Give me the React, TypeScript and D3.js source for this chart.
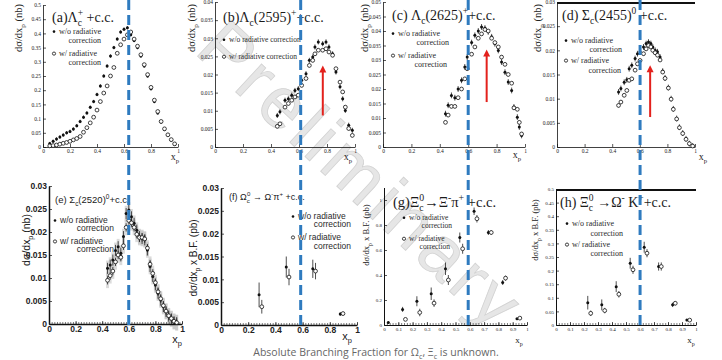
import { useEffect, useRef } from 'react';
import * as d3 from 'd3';

// ---- values ----

// (a) Lambda_c+
const aX = [0.05, 0.075, 0.1, 0.125, 0.15, 0.175, 0.2, 0.225, 0.25, 0.275, 0.3, 0.325, 0.35, 0.375, 0.4, 0.425, 0.45, 0.475, 0.5, 0.525, 0.55, 0.575, 0.6, 0.625, 0.65, 0.675, 0.7, 0.725, 0.75, 0.775, 0.8, 0.825, 0.85, 0.875, 0.9, 0.925, 0.95, 0.975];
const aNoRad = [0.012, 0.02, 0.028, 0.035, 0.042, 0.05, 0.055, 0.063, 0.075, 0.09, 0.105, 0.12, 0.14, 0.16, 0.185, 0.215, 0.25, 0.285, 0.32, 0.35, 0.38, 0.405, 0.415, 0.42, 0.395, 0.375, 0.35, 0.32, 0.285, 0.25, 0.205, 0.16, 0.12, 0.088, 0.062, 0.042, 0.025, 0.01];
const aRad = [0.004, 0.005, 0.007, 0.01, 0.013, 0.016, 0.02, 0.025, 0.03, 0.037, 0.052, 0.068, 0.085, 0.105, 0.13, 0.16, 0.19, 0.215, 0.25, 0.28, 0.33, 0.36, 0.38, 0.395, 0.405, 0.38, 0.355, 0.325, 0.29, 0.255, 0.21, 0.165, 0.125, 0.09, 0.064, 0.043, 0.026, 0.011];

// (b) Lambda_c(2595)+
const bX = [0.445, 0.464, 0.5, 0.524, 0.548, 0.571, 0.595, 0.619, 0.65, 0.674, 0.698, 0.714, 0.738, 0.769, 0.793, 0.814, 0.84, 0.864, 0.893, 0.912, 0.931, 0.955, 0.981];
const bNoRad = [0.0087, 0.0097, 0.0129, 0.0133, 0.0143, 0.0156, 0.0161, 0.0184, 0.0202, 0.0239, 0.0248, 0.0276, 0.029, 0.0285, 0.029, 0.0276, 0.0257, 0.0207, 0.0166, 0.0133, 0.0101, 0.006, 0.0046];
const bRad = [0.0057, 0.0064, 0.011, 0.012, 0.0129, 0.0138, 0.0143, 0.017, 0.0189, 0.0225, 0.0239, 0.0257, 0.0267, 0.0267, 0.0271, 0.0262, 0.0253, 0.0216, 0.0179, 0.0152, 0.011, 0.0051, 0.0032];

// (c) Lambda_c(2625)+
const cX = [0.44, 0.459, 0.482, 0.506, 0.529, 0.553, 0.576, 0.593, 0.624, 0.647, 0.671, 0.694, 0.718, 0.741, 0.765, 0.788, 0.812, 0.835, 0.859, 0.882, 0.906, 0.922, 0.946, 0.96, 0.976];
const cNoRad = [0.0115, 0.0144, 0.0178, 0.017, 0.02, 0.023, 0.0276, 0.031, 0.036, 0.0385, 0.04, 0.0414, 0.041, 0.0397, 0.038, 0.0356, 0.0333, 0.0293, 0.0258, 0.0224, 0.0195, 0.0138, 0.0103, 0.0069, 0.004];
const cRad = [0.0085, 0.011, 0.014, 0.014, 0.017, 0.02, 0.0235, 0.027, 0.032, 0.0345, 0.0375, 0.039, 0.0405, 0.04, 0.0375, 0.036, 0.0345, 0.031, 0.0285, 0.025, 0.022, 0.0135, 0.013, 0.0085, 0.0045];

// (d) Sigma_c(2455)0
const dX = [0.446, 0.463, 0.487, 0.506, 0.523, 0.542, 0.566, 0.583, 0.602, 0.627, 0.646, 0.663, 0.68, 0.694, 0.711, 0.728, 0.747, 0.766, 0.783, 0.807, 0.827, 0.843, 0.867, 0.887, 0.911, 0.935, 0.959, 0.983];
const dNoRad = [0.0114, 0.0121, 0.0134, 0.0139, 0.0162, 0.0169, 0.0183, 0.0193, 0.0197, 0.0207, 0.0214, 0.0217, 0.0214, 0.0207, 0.02, 0.0197, 0.0186, 0.0157, 0.0143, 0.0123, 0.01, 0.0079, 0.0059, 0.0041, 0.0029, 0.0017, 0.0007, 0.0002];
const dRad = [0.0086, 0.0093, 0.0107, 0.0117, 0.0138, 0.0141, 0.0159, 0.0172, 0.0179, 0.0193, 0.0203, 0.021, 0.0207, 0.02, 0.0195, 0.019, 0.018, 0.0155, 0.0142, 0.0122, 0.0099, 0.0078, 0.0058, 0.004, 0.0028, 0.0016, 0.0007, 0.0002];

// (e) Sigma_c(2520)0
const eX = [0.44, 0.46, 0.48, 0.5, 0.52, 0.54, 0.56, 0.58, 0.6, 0.62, 0.64, 0.66, 0.68, 0.7, 0.72, 0.74, 0.76, 0.78, 0.8, 0.82, 0.84, 0.86, 0.88, 0.9, 0.92, 0.94, 0.96];
const eNoRad = [0.0121, 0.0128, 0.0139, 0.016, 0.0168, 0.0154, 0.019, 0.024, 0.0248, 0.0233, 0.0219, 0.0204, 0.019, 0.0186, 0.0183, 0.0161, 0.0125, 0.0103, 0.0085, 0.0067, 0.0052, 0.0038, 0.0027, 0.0017, 0.0011, 0.0005, 0.0003];
const eRad = [0.0095, 0.0105, 0.0115, 0.0135, 0.015, 0.0145, 0.017, 0.021, 0.0225, 0.022, 0.021, 0.0195, 0.0188, 0.0188, 0.0185, 0.0165, 0.013, 0.011, 0.009, 0.007, 0.0055, 0.004, 0.0028, 0.0018, 0.0012, 0.0006, 0.0003];

// (f) Omega_c0 -> Omega- pi+
const fX = [0.28, 0.48, 0.675, 0.877];
const fNoRad = [0.0066, 0.0127, 0.0123, 0.0024];
const fNoRadErr = [0.0027, 0.0023, 0.002, 0.0004];
const fXRad = [0.3, 0.5, 0.695, 0.897];
const fRad = [0.004, 0.0105, 0.0118, 0.0025];
const fRadErr = [0.0015, 0.0018, 0.0018, 0.0004];

// (g) Xi_c0 -> Xi- pi+
const gX = [0.03, 0.13, 0.23, 0.33, 0.43, 0.53, 0.63, 0.73, 0.83, 0.93];
const gNoRad = [0.02, 0.125, 0.19, 0.25, 0.45, 0.7, 0.91, 0.74, 0.34, 0.05];
const gNoRadErr = [0.01, 0.02, 0.04, 0.05, 0.05, 0.04, 0.03, 0.02, 0.02, 0.005];
const gXRad = [0.15, 0.25, 0.35, 0.45, 0.55, 0.65, 0.75, 0.85, 0.95];
const gRad = [0.045, 0.1, 0.175, 0.36, 0.61, 0.85, 0.74, 0.375, 0.055];
const gRadErr = [0.01, 0.03, 0.03, 0.04, 0.04, 0.03, 0.02, 0.02, 0.005];

// (h) Xi_c0 -> Omega- K+
const hX = [0.227, 0.327, 0.43, 0.53, 0.63, 0.733, 0.833, 0.935];
const hNoRad = [0.082, 0.074, 0.141, 0.227, 0.286, 0.215, 0.074, 0.018];
const hNoRadErr = [0.025, 0.02, 0.02, 0.02, 0.02, 0.015, 0.008, 0.004];
const hXRad = [0.248, 0.348, 0.449, 0.55, 0.65, 0.752, 0.852, 0.955];
const hRad = [0.043, 0.053, 0.113, 0.203, 0.264, 0.215, 0.08, 0.018];
const hRadErr = [0.01, 0.01, 0.012, 0.015, 0.015, 0.015, 0.008, 0.004];

// tick labels
const xTicks5 = [0, 0.2, 0.4, 0.6, 0.8, 1];
const xTicks10 = [0, 0.1, 0.2, 0.3, 0.4, 0.5, 0.6, 0.7, 0.8, 0.9, 1];
const yTicks05 = [0, 0.05, 0.1, 0.15, 0.2, 0.25, 0.3, 0.35, 0.4, 0.45, 0.5];
const yTicks004 = [0, 0.005, 0.01, 0.015, 0.02, 0.025, 0.03, 0.035, 0.04];
const yTicks005 = [0, 0.005, 0.01, 0.015, 0.02, 0.025, 0.03, 0.035, 0.04, 0.045, 0.05];
const yTicks003 = [0, 0.005, 0.01, 0.015, 0.02, 0.025, 0.03];
const yTicks1 = [0, 0.2, 0.4, 0.6, 0.8, 1];

// x_p of the blue dashed line in each column (a..d)
const cutX = [0.635, 0.612, 0.6, 0.602];

// red arrows: [x, from, to]
const arrowB = [0.77, 0.0087, 0.0225];
const arrowC = [0.73, 0.0155, 0.0336];
const arrowD = [0.675, 0.0062, 0.0169];

type Seg = [string, string];
interface Leg { text: string; x: number; y: number; marker?: 'filled' | 'open'; anchor?: string }
interface Ser { x: number[]; y: number[]; err: number[] | number; kind: 'filled' | 'open' }

const SERIF = 'Liberation Serif';
const SANS = 'Liberation Sans';

const legend4 = (x: number, y1: number, y2: number, y3: number, y4: number, r1: number, r2: number): Leg[] => [
  { marker: 'filled', text: 'w/o radiative', x, y: y1 },
  { text: 'correction', x: r1, y: y2, anchor: 'end' },
  { marker: 'open', text: 'w/ radiative', x, y: y3 },
  { text: 'correction', x: r2, y: y4, anchor: 'end' },
];

const labNb: Seg[] = [['dσ/dx', ''], ['p', 'sub'], [' (nb)', '']];
const labPb: Seg[] = [['dσ/dx', ''], ['p', 'sub'], [' x B.F. (pb)', '']];

const panels = [
  {
    box: { l: 43, t: 5, r: 178, b: 147 }, yMax: 0.5, xTicks: xTicks5, yTicks: yTicks05,
    tick: [SERIF, 5.5, 'normal'], axisW: 0.8,
    title: [['(a)Λ', ''], ['c', 'sub'], ['+', 'stk'], [' +c.c.', '']] as Seg[], titlePos: [52, 22], titleFont: [SERIF, 14],
    legend: legend4(54, 34, 43, 56, 65, 101, 101), legFont: [SERIF, 8],
    yLabel: labNb, yLabelPos: [22, 4], yAnchor: 'end', labFont: [SERIF, 10.5],
    xLabelPos: [175, 160], xLabFont: [SERIF, 10],
    series: [
      { x: aX, y: aNoRad, err: 0.006, kind: 'filled' },
      { x: aX, y: aRad, err: 0.003, kind: 'open' },
    ] as Ser[],
  },
  {
    box: { l: 215, t: 2, r: 355, b: 147 }, yMax: 0.04, xTicks: xTicks5, yTicks: yTicks004,
    tick: [SERIF, 5.5, 'normal'], axisW: 0.8,
    title: [['(b)Λ', ''], ['c', 'sub'], ['(2595)', ''], ['+', 'sup'], ['+c.c.', '']] as Seg[], titlePos: [223, 22], titleFont: [SERIF, 14],
    legend: [
      { marker: 'filled', text: 'w/o radiative correction', x: 224, y: 42 },
      { marker: 'open', text: 'w/ radiative correction', x: 224, y: 59 },
    ] as Leg[], legFont: [SERIF, 7.5],
    yLabel: labNb, yLabelPos: [195, 4], yAnchor: 'end', labFont: [SERIF, 10.5],
    xLabelPos: [348, 160], xLabFont: [SERIF, 10],
    series: [
      { x: bX, y: bNoRad, err: 0.0007, kind: 'filled' },
      { x: bX, y: bRad, err: 0.0005, kind: 'open' },
    ] as Ser[],
    arrow: arrowB,
  },
  {
    box: { l: 383, t: 2, r: 525, b: 147 }, yMax: 0.05, xTicks: xTicks5, yTicks: yTicks005,
    tick: [SERIF, 5.5, 'normal'], axisW: 0.8,
    title: [['(c) Λ', ''], ['c', 'sub'], ['(2625)', ''], ['+', 'sup'], ['+c.c.', '']] as Seg[], titlePos: [392, 20], titleFont: [SERIF, 14],
    legend: legend4(393, 36, 45, 58, 67, 449, 447), legFont: [SERIF, 8],
    yLabel: labNb, yLabelPos: [368, 4], yAnchor: 'end', labFont: [SERIF, 10.5],
    xLabelPos: [517, 158], xLabFont: [SERIF, 10],
    series: [
      { x: cX, y: cNoRad, err: 0.001, kind: 'filled' },
      { x: cX, y: cRad, err: 0.0006, kind: 'open' },
    ] as Ser[],
    arrow: arrowC,
  },
  {
    box: { l: 557, t: 2, r: 695, b: 147 }, yMax: 0.03, xTicks: xTicks5, yTicks: yTicks003,
    tick: [SERIF, 5.5, 'normal'], axisW: 0.8, topFrame: true,
    title: [['(d) Σ', ''], ['c', 'sub'], ['(2455)', ''], ['0', 'sup'], [' +c.c.', '']] as Seg[], titlePos: [562, 20], titleFont: [SERIF, 14],
    legend: legend4(566, 43, 52, 63, 73, 622, 621), legFont: [SERIF, 8],
    yLabel: labNb, yLabelPos: [541, 4], yAnchor: 'end', labFont: [SERIF, 10.5],
    xLabelPos: [703, 160], xLabFont: [SERIF, 10],
    series: [
      { x: dX, y: dNoRad, err: 0.0006, kind: 'filled' },
      { x: dX, y: dRad, err: 0.0004, kind: 'open' },
    ] as Ser[],
    arrow: arrowD,
  },
  {
    box: { l: 49, t: 186, r: 182, b: 324 }, yMax: 0.03, xTicks: xTicks5, yTicks: yTicks003,
    tick: [SANS, 8.5, 'bold'], axisW: 1.5, bands: true, minor: true,
    title: [['(e)  Σ', ''], ['c', 'sub'], ['(2520)', ''], ['0', 'sup'], ['+c.c.', '']] as Seg[], titlePos: [55, 203], titleFont: [SANS, 9.5],
    legend: legend4(55, 223, 231, 244, 252, 114, 114), legFont: [SANS, 8.5],
    yLabel: labNb, yLabelPos: [30, 240], yAnchor: 'middle', labFont: [SANS, 10.5],
    xLabelPos: [177, 343], xLabFont: [SANS, 11],
    series: [
      { x: eX, y: eNoRad, err: 0.0012, kind: 'filled' },
      { x: eX, y: eRad, err: 0.0009, kind: 'open' },
    ] as Ser[],
  },
  {
    box: { l: 221, t: 188, r: 357, b: 325 }, yMax: 0.03, xTicks: xTicks5, yTicks: yTicks003,
    tick: [SANS, 8.5, 'bold'], axisW: 1.5, minor: true,
    title: [['(f)    Ω', ''], ['c', 'sub'], ['0', 'stk'], [' → Ω', ''], ['-', 'sup'], ['π', ''], ['+', 'sup'], [' +c.c.', '']] as Seg[], titlePos: [229, 200], titleFont: [SANS, 9],
    legend: legend4(293, 219, 227, 240, 249, 351, 351), legFont: [SANS, 8.5],
    yLabel: labPb, yLabelPos: [197, 258], yAnchor: 'middle', labFont: [SANS, 10],
    xLabelPos: [347, 340], xLabFont: [SANS, 11],
    series: [
      { x: fX, y: fNoRad, err: fNoRadErr, kind: 'filled' },
      { x: fXRad, y: fRad, err: fRadErr, kind: 'open' },
    ] as Ser[],
  },
  {
    box: { l: 384, t: 187.5, r: 527, b: 325 }, yMax: 1.1, xTicks: xTicks10, yTicks: yTicks1,
    tick: [SERIF, 5, 'normal'], axisW: 1, minor: true,
    title: [['(g)Ξ', ''], ['c', 'sub'], ['0', 'stk'], ['→Ξ', ''], ['-', 'sup'], ['π', ''], ['+', 'sup'], [' +c.c.', '']] as Seg[], titlePos: [393, 207], titleFont: [SERIF, 14.5],
    legend: legend4(404, 220, 228, 241, 249, 452, 450), legFont: [SERIF, 7.5],
    yLabel: labPb, yLabelPos: [369, 235], yAnchor: 'middle', labFont: [SERIF, 8.5],
    xLabelPos: [519, 343], xLabFont: [SERIF, 9],
    series: [
      { x: gX, y: gNoRad, err: gNoRadErr, kind: 'filled' },
      { x: gXRad, y: gRad, err: gRadErr, kind: 'open' },
    ] as Ser[],
  },
  {
    box: { l: 556, t: 189, r: 696, b: 325 }, yMax: 0.5, xTicks: xTicks10, yTicks: yTicks05,
    tick: [SERIF, 5, 'normal'], axisW: 1, topFrame: true, minor: true,
    title: [['(h) Ξ', ''], ['c', 'sub'], ['0', 'stk'], [' →Ω', ''], ['-', 'sup'], [' K', ''], ['+', 'sup'], ['+c.c.', '']] as Seg[], titlePos: [560, 207], titleFont: [SERIF, 14],
    legend: legend4(567, 226, 236, 247, 256, 623, 623), legFont: [SERIF, 8],
    yLabel: labPb, yLabelPos: [538, 230], yAnchor: 'middle', labFont: [SERIF, 8.5],
    xLabelPos: [691, 343], xLabFont: [SERIF, 9],
    series: [
      { x: hX, y: hNoRad, err: hNoRadErr, kind: 'filled' },
      { x: hXRad, y: hRad, err: hRadErr, kind: 'open' },
    ] as Ser[],
  },
];

// write text segments with sub/superscripts as tspans
function addSegs(text: any, segs: Seg[], fs: number) {
  let cur = 0;
  segs.forEach(([s, k]) => {
    const target = k === 'sub' ? fs * 0.3 : k === 'sup' || k === 'stk' ? -fs * 0.42 : 0;
    const t = text.append('tspan').attr('dy', target - cur).attr('font-size', k ? fs * 0.68 : fs).text(s);
    if (k === 'stk') t.attr('dx', -fs * 0.3);
    cur = target;
  });
}

function drawPanel(svg: any, p: any) {
  const { l, t, r, b } = p.box;
  const x = d3.scaleLinear().domain([0, 1]).range([l, r]);
  const y = d3.scaleLinear().domain([0, p.yMax]).range([b, t]);
  const g = svg.append('g');

  // systematic boxes (e)
  if (p.bands) {
    p.series.forEach((s: Ser) => {
      g.selectAll(null).data(s.y).enter().append('rect')
        .attr('x', (_: number, i: number) => x(s.x[i] - 0.011))
        .attr('width', x(0.022) - x(0))
        .attr('y', (v: number) => y(v + 0.0017))
        .attr('height', y(0) - y(0.0034))
        .attr('fill', '#bdbdbd').attr('opacity', 0.55);
    });
  }

  const ya = g.append('g').attr('transform', `translate(${l},0)`)
    .call(d3.axisLeft(y).tickValues(p.yTicks).tickFormat((d: any) => String(d)).tickSizeInner(-3).tickSizeOuter(0).tickPadding(2));
  const xa = g.append('g').attr('transform', `translate(0,${b})`)
    .call(d3.axisBottom(x).tickValues(p.xTicks).tickFormat((d: any) => String(d)).tickSizeInner(-3).tickSizeOuter(0).tickPadding(2));
  if (p.minor) {
    g.append('g').attr('transform', `translate(0,${b})`)
      .call(d3.axisBottom(x).tickValues(d3.range(0, 1.0001, 0.02)).tickFormat(() => '').tickSizeInner(-2).tickSizeOuter(0))
      .call((a: any) => a.select('.domain').remove())
      .selectAll('line').attr('stroke', '#222').attr('stroke-width', 0.6);
  }
  [ya, xa].forEach(a => {
    a.attr('font-family', p.tick[0]).attr('font-size', p.tick[1]).attr('font-weight', p.tick[2]);
    a.select('.domain').attr('stroke', '#111').attr('stroke-width', p.axisW);
    a.selectAll('line').attr('stroke', '#111').attr('stroke-width', 0.7);
    a.selectAll('text').attr('fill', '#222');
  });
  if (p.topFrame) {
    g.append('line').attr('x1', l).attr('x2', r).attr('y1', t + 1).attr('y2', t + 1)
      .attr('stroke', '#111').attr('stroke-width', 2);
  }

  // points with error bars
  p.series.forEach((s: Ser) => {
    const e = (i: number) => (Array.isArray(s.err) ? s.err[i] : s.err);
    g.selectAll(null).data(s.y).enter().append('line')
      .attr('x1', (_: number, i: number) => x(s.x[i])).attr('x2', (_: number, i: number) => x(s.x[i]))
      .attr('y1', (v: number, i: number) => y(Math.max(0, v - e(i))))
      .attr('y2', (v: number, i: number) => y(v + e(i)))
      .attr('stroke', '#222').attr('stroke-width', 0.8);
    g.selectAll(null).data(s.y).enter().append('circle')
      .attr('cx', (_: number, i: number) => x(s.x[i])).attr('cy', (v: number) => y(v))
      .attr('r', s.kind === 'filled' ? 1.5 : 1.9)
      .attr('fill', s.kind === 'filled' ? '#111' : '#fff')
      .attr('stroke', '#111').attr('stroke-width', s.kind === 'filled' ? 0 : 0.8);
  });

  // red arrow
  if (p.arrow) {
    const [ax, a0, a1] = p.arrow;
    const X = x(ax), Y0 = y(a0), Y1 = y(a1);
    g.append('line').attr('x1', X).attr('x2', X).attr('y1', Y0).attr('y2', Y1 + 6)
      .attr('stroke', '#e3211c').attr('stroke-width', 2);
    g.append('path').attr('d', `M${X - 3.5},${Y1 + 7} L${X},${Y1} L${X + 3.5},${Y1 + 7} Z`).attr('fill', '#e3211c');
  }

  // title
  const tt = g.append('text').attr('x', p.titlePos[0]).attr('y', p.titlePos[1])
    .attr('font-family', p.titleFont[0]).attr('fill', '#1a1a1a');
  addSegs(tt, p.title, p.titleFont[1]);

  // legend
  p.legend.forEach((it: Leg) => {
    const tx = it.marker ? it.x + 5 : it.x;
    g.append('text').attr('x', tx).attr('y', it.y).attr('text-anchor', it.anchor || 'start')
      .attr('font-family', p.legFont[0]).attr('font-size', p.legFont[1]).attr('fill', '#2a2a2a').text(it.text);
    if (it.marker) {
      g.append('circle').attr('cx', it.x).attr('cy', it.y - p.legFont[1] * 0.3)
        .attr('r', it.marker === 'filled' ? 1.3 : 1.6)
        .attr('fill', it.marker === 'filled' ? '#111' : '#fff')
        .attr('stroke', '#111').attr('stroke-width', it.marker === 'filled' ? 0 : 0.8);
    }
  });

  // axis titles
  const yl = g.append('text').attr('transform', `translate(${p.yLabelPos[0]},${p.yLabelPos[1]}) rotate(-90)`)
    .attr('text-anchor', p.yAnchor).attr('font-family', p.labFont[0]).attr('fill', '#222');
  addSegs(yl, p.yLabel, p.labFont[1]);
  const xl = g.append('text').attr('x', p.xLabelPos[0]).attr('y', p.xLabelPos[1]).attr('text-anchor', 'middle')
    .attr('font-family', p.xLabFont[0]).attr('fill', '#222');
  addSegs(xl, [['x', ''], ['p', 'sub']], p.xLabFont[1]);
}

const App = () => {
  const ref = useRef<SVGSVGElement>(null);

  useEffect(() => {
    const svg = d3.select(ref.current);
    svg.selectAll('*').remove();

    svg.append('rect').attr('width', 722).attr('height', 360).attr('fill', '#fff');

    // watermark
    svg.append('text')
      .attr('transform', 'translate(358,180) rotate(43)')
      .attr('text-anchor', 'middle').attr('dominant-baseline', 'middle')
      .attr('font-family', SANS).attr('font-size', 72).attr('letter-spacing', 5)
      .attr('fill', '#e6e6e6').attr('stroke', '#d2d2d2').attr('stroke-width', 0.8)
      .text('Preliminary');

    panels.forEach(p => drawPanel(svg, p));

    // blue dashed lines, one per column
    panels.slice(0, 4).forEach((p, i) => {
      const x = d3.scaleLinear().domain([0, 1]).range([p.box.l, p.box.r]);
      svg.append('line').attr('x1', x(cutX[i])).attr('x2', x(cutX[i])).attr('y1', 0).attr('y2', 330)
        .attr('stroke', '#2f7bbf').attr('stroke-width', 3).attr('stroke-dasharray', '10,5');
    });

    // caption
    const cap = svg.append('text').attr('x', 376).attr('y', 356).attr('text-anchor', 'middle')
      .attr('font-family', 'Open Sans').attr('fill', '#666');
    addSegs(cap, [['Absolute Branching Fraction for Ω', ''], ['c', 'sub'], [', Ξ', ''], ['c', 'sub'], [' is unknown.', '']], 10.5);
  }, []);

  return (
    <svg ref={ref} width={722} height={360} style={{ position: 'absolute', left: 0, top: 0, display: 'block' }} />
  );
};

export default App;
